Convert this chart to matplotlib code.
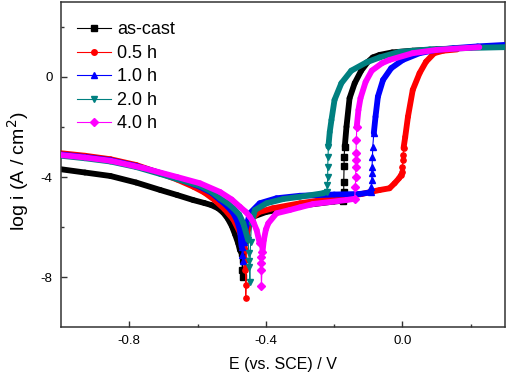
import numpy as np
import matplotlib
matplotlib.use("Agg")
import matplotlib.pyplot as plt
from matplotlib.collections import LineCollection
from matplotlib.lines import Line2D

plt.rcParams['font.family'] = ['Liberation Sans', 'DejaVu Sans']

labels = ["as-cast", "0.5 h", "1.0 h", "2.0 h", "4.0 h"]
colors = ["#000000", "#FF0000", "#0000FF", "#008080", "#FF00FF"]
markers = ["s", "o", "^", "v", "D"]

# as-cast
E_cast = [-1.0, -0.93, -0.855, -0.78, -0.709, -0.66, -0.613, -0.58, -0.56, -0.54, -0.525,
          -0.512, -0.50, -0.49, -0.481, -0.476,
          -0.471, -0.469, -0.468, -0.467, -0.465, -0.455, -0.44, -0.40, -0.30, -0.20, -0.175,
          -0.172, -0.172, -0.171, -0.171, -0.169, -0.164, -0.155, -0.140, -0.121, -0.101,
          -0.087, -0.067, -0.03, 0.03, 0.10, 0.15]
i_cast = [-3.69, -3.82, -3.96, -4.22, -4.52, -4.72, -4.92, -5.04, -5.12, -5.25, -5.42,
          -5.65, -5.95, -6.30, -6.65, -6.92,
          -7.05, -7.72, -8.0, -7.3, -6.5, -5.9, -5.6, -5.4, -5.15, -4.98, -4.95,
          -4.59, -4.19, -3.55, -3.19, -2.79, -1.99, -0.85, -0.25, 0.25, 0.61,
          0.78, 0.88, 0.98, 1.05, 1.10, 1.13]

# 0.5 h
E_05 = [-1.0, -0.93, -0.855, -0.78, -0.709, -0.66, -0.612, -0.58, -0.55, -0.52, -0.495, -0.475,
        -0.465, -0.461, -0.460, -0.460, -0.459, -0.459, -0.457, -0.455, -0.445, -0.42, -0.38,
        -0.30, -0.20, -0.12, -0.091, -0.067, -0.038, -0.023, -0.010, -0.004, -0.002, 0.000,
        0.001, 0.002, 0.003, 0.008, 0.016, 0.030, 0.050, 0.069, 0.093, 0.12, 0.16]
i_05 = [-3.05, -3.15, -3.29, -3.52, -3.85, -4.10, -4.39, -4.62, -4.92, -5.30, -5.70, -6.25,
        -6.70, -6.92, -7.32, -7.72, -8.30, -8.85, -7.60, -6.30, -5.70, -5.40, -5.25,
        -5.05, -4.85, -4.68, -4.59, -4.52, -4.45, -4.25, -4.05, -3.92, -3.80, -3.59,
        -3.32, -3.12, -2.85, -2.40, -1.59, -0.52, 0.15, 0.61, 0.95, 1.05, 1.10]

# 1.0 h
E_10 = [-1.0, -0.93, -0.855, -0.78, -0.709, -0.66, -0.593, -0.56, -0.534, -0.512, -0.495,
        -0.484, -0.476, -0.471,
        -0.469, -0.468, -0.465, -0.460, -0.447, -0.418, -0.369, -0.30, -0.20, -0.126, -0.096,
        -0.092, -0.091, -0.090, -0.090, -0.089, -0.088, -0.087, -0.084, -0.079, -0.072,
        -0.057, -0.033, 0.001, 0.05, 0.098, 0.15, 0.22, 0.30]
i_10 = [-3.10, -3.20, -3.33, -3.56, -3.84, -4.05, -4.39, -4.62, -4.92, -5.18, -5.45,
        -5.75, -6.12, -6.79,
        -7.10, -7.37, -6.60, -6.12, -5.45, -5.05, -4.85, -4.75, -4.70, -4.68, -4.62,
        -4.59, -4.39, -4.12, -3.85, -3.59, -3.19, -2.79, -2.25, -1.59, -0.79,
        -0.12, 0.35, 0.68, 0.95, 1.08, 1.15, 1.22, 1.28]

# 2.0 h
E_20 = [-1.0, -0.93, -0.855, -0.78, -0.709, -0.66, -0.593, -0.56, -0.534, -0.512, -0.495,
        -0.478, -0.466, -0.452,
        -0.450, -0.449, -0.448, -0.447, -0.445, -0.442, -0.432, -0.398, -0.349, -0.30, -0.233,
        -0.222, -0.220, -0.219, -0.219, -0.218, -0.217, -0.213, -0.208, -0.199, -0.179,
        -0.15, -0.106, -0.067, -0.009, 0.08, 0.20, 0.30]
i_20 = [-3.15, -3.25, -3.38, -3.60, -3.88, -4.08, -4.35, -4.58, -4.85, -5.05, -5.25,
        -5.50, -5.85, -6.52,
        -7.05, -7.35, -7.60, -8.20, -6.60, -5.85, -5.32, -5.05, -4.88, -4.79, -4.65,
        -4.60, -4.30, -3.99, -3.59, -3.19, -2.79, -2.20, -1.72, -0.92, -0.25,
        0.25, 0.58, 0.78, 1.00, 1.10, 1.16, 1.19]

# 4.0 h
E_40 = [-1.0, -0.93, -0.855, -0.759, -0.66, -0.593, -0.534, -0.50, -0.476, -0.46, -0.447,
        -0.436, -0.427, -0.418,
        -0.415, -0.414, -0.414, -0.413, -0.410, -0.406, -0.400, -0.393, -0.369, -0.33, -0.30,
        -0.262, -0.164, -0.140, -0.138, -0.137, -0.137, -0.136, -0.136, -0.135, -0.134,
        -0.129, -0.123, -0.108, -0.09, -0.06, -0.038, 0.03, 0.10, 0.225]
i_40 = [-3.12, -3.22, -3.35, -3.64, -4.00, -4.25, -4.60, -4.90, -5.19, -5.38, -5.59,
        -5.82, -6.12, -6.65,
        -7.19, -7.45, -7.70, -8.36, -7.00, -6.52, -6.10, -5.85, -5.45, -5.32, -5.21,
        -5.08, -4.92, -4.87, -4.39, -3.99, -3.59, -3.32, -3.05, -2.52, -1.99,
        -1.32, -0.85, -0.20, 0.25, 0.55, 0.68, 0.95, 1.08, 1.19]

series = [(E_cast, i_cast), (E_05, i_05), (E_10, i_10), (E_20, i_20), (E_40, i_40)]

fig = plt.figure(figsize=(5.08, 3.76), dpi=100)
ax = fig.add_axes([0.120, 0.130, 0.874, 0.865])

handles = []
for k, ((E, li), lab, c, m) in enumerate(zip(series, labels, colors, markers)):
    E = np.asarray(E)
    li = np.asarray(li)
    pts = np.column_stack([E, li])
    segs = np.stack([pts[:-1], pts[1:]], axis=1)
    dense = np.abs(np.diff(E)) >= 0.0035
    lc = LineCollection(segs[dense], colors=c, linewidths=4.2, capstyle='round',
                        joinstyle='round', zorder=2 + k)
    ax.add_collection(lc)
    ax.plot(E, li, '-', color=c, lw=0.8, zorder=2 + k)
    sparse_pt = np.zeros(len(E), dtype=bool)
    sparse_pt[:-1] |= ~dense
    sparse_pt[1:] |= ~dense
    ax.plot(E[sparse_pt], li[sparse_pt], linestyle='none', marker=m, ms=3.8,
            mec=c, mfc=c, zorder=2 + k)
    handles.append(Line2D([], [], color=c, lw=0.8, marker=m, ms=4, mec=c, mfc=c, label=lab))

ax.set_xlim(-1.0, 0.3)
ax.set_ylim(-10, 3)
ax.set_xticks([-0.8, -0.4, 0.0])
ax.set_xticklabels(["-0.8", "-0.4", "0.0"])
ax.set_xticks([-0.6, -0.2, 0.2], minor=True)
ax.set_yticks([-8, -4, 0])
ax.set_yticklabels(["-8", "-4", "0"])
ax.set_yticks([-6, -2, 2], minor=True)
ax.tick_params(which='both', direction='in', labelsize=9.5, color='#333333')
ax.tick_params(which='major', length=4.5, width=1.0, pad=6)
ax.tick_params(which='minor', length=2.5, width=1.0)
for s in ax.spines.values():
    s.set_linewidth(1.1)
    s.set_color('#333333')

ax.set_xlabel("E (vs. SCE) / V", fontsize=11.5, labelpad=7)
ax.set_ylabel("log i (A / cm$^2$)", fontsize=14)
ax.yaxis.set_label_coords(-0.068, 0.48)

ax.legend(handles=handles, loc='upper left', frameon=False, fontsize=13, handlelength=1.9,
          handletextpad=0.33, labelspacing=0.36, borderaxespad=0.0, borderpad=0.0,
          bbox_to_anchor=(0.036, 0.94))

fig.savefig("out.png", dpi=100)
